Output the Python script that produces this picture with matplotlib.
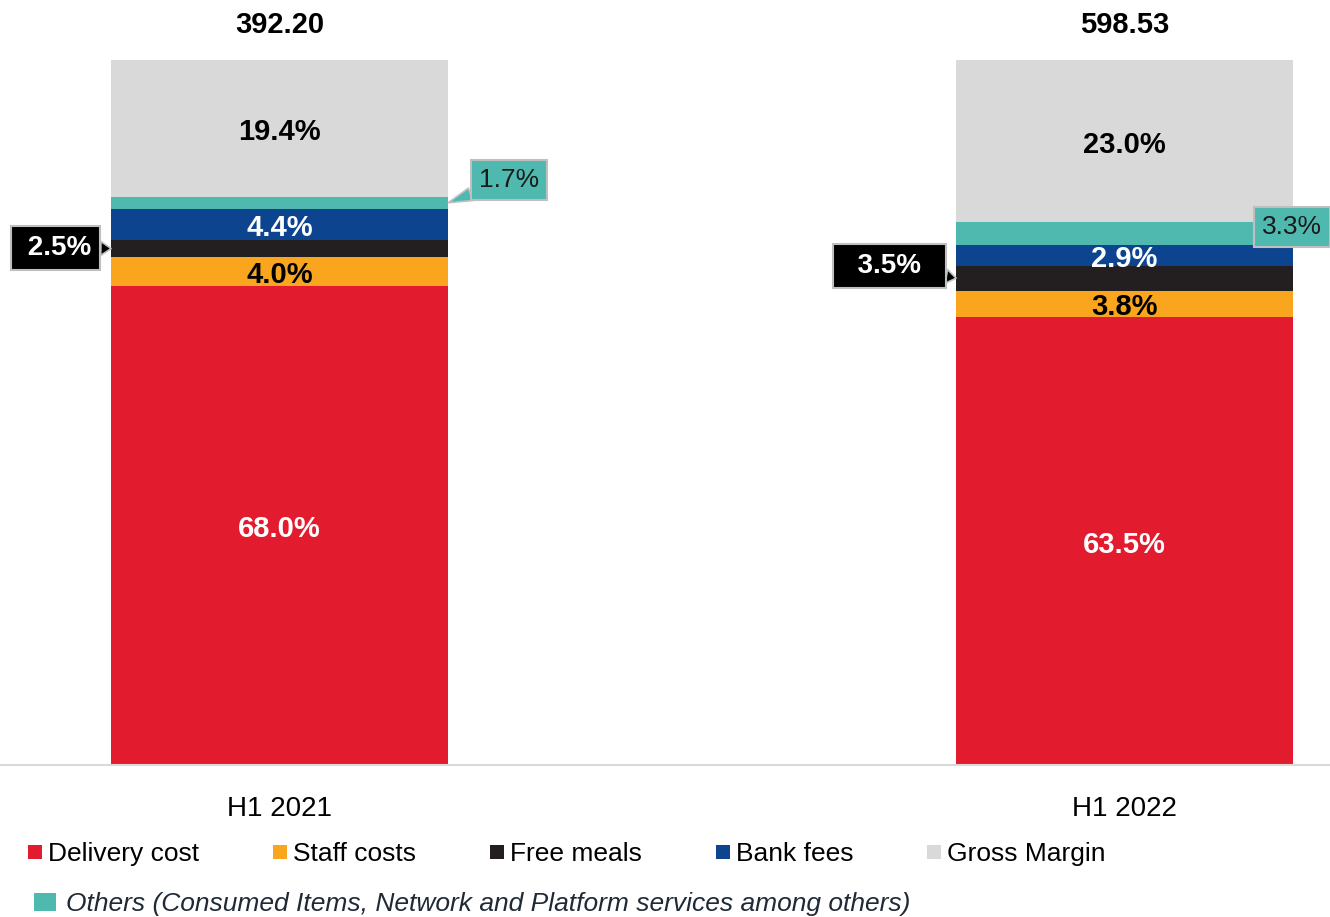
import matplotlib.pyplot as plt
import numpy as np

plt.rcParams['font.family'] = ['Liberation Sans', 'DejaVu Sans']

periods = ['H1 2021', 'H1 2022']
totals = [392.20, 598.53]

# share of revenue per cost line (%)
delivery_cost = [68.0, 63.5]
staff_costs = [4.0, 3.8]
free_meals = [2.5, 3.5]
bank_fees = [4.4, 2.9]
others = [1.7, 3.3]
gross_margin = [19.4, 23.0]

series = [
    ('Delivery cost', delivery_cost, '#E31B2E', 'white'),
    ('Staff costs', staff_costs, '#F9A51E', 'black'),
    ('Free meals', free_meals, '#231F20', None),
    ('Bank fees', bank_fees, '#0D4490', 'white'),
    ('Others (Consumed Items, Network and Platform services among others)', others, '#4FB9B0', None),
    ('Gross Margin', gross_margin, '#D9D9D9', 'black'),
]

fig = plt.figure(figsize=(13.3, 9.17), dpi=100)
ax = fig.add_axes([0, 0.1658, 1, 0.7688])

x = np.arange(len(periods))
width = 0.399
bottom = np.zeros(len(periods))
bars = {}
mids = {}
for name, vals, color, txt in series:
    vals = np.array(vals)
    b = ax.bar(x, vals, width, bottom=bottom, color=color, label=name, linewidth=0)
    bars[name] = b
    mids[name] = bottom + vals / 2
    if txt is not None:
        for xi, v, m in zip(x, vals, bottom + vals / 2):
            ax.annotate(f'{v:.1f}%', (xi, m), xytext=(0, -2.5), textcoords='offset points',
                        ha='center', va='center', color=txt, fontsize=21, fontweight='bold')
    bottom = bottom + vals

# totals above each bar
for xi, t, top in zip(x, totals, bottom):
    ax.annotate(f'{t:.2f}', (xi, top), xytext=(0, 25), textcoords='offset points',
                ha='center', va='center', fontsize=21, fontweight='bold',
                annotation_clip=False)

# callouts for the thin segments
def callout(name, vals, i, side, offset, fc, tc, weight, label_fmt, pad):
    xi = x[i] + side * width / 2
    ax.annotate(label_fmt.format(vals[i]), (xi, mids[name][i]), xytext=offset,
                textcoords='offset points', ha='center', va='center',
                fontsize=19 if weight == 'normal' else 20, fontweight=weight, color=tc,
                bbox=dict(boxstyle=f'square,pad={pad}', fc=fc, ec='#BFBFBF', lw=1.5),
                arrowprops=dict(arrowstyle='wedge,tail_width=0.5,shrink_factor=0.5',
                                fc=fc, ec='#BFBFBF', lw=1.2, shrinkA=0, shrinkB=0),
                annotation_clip=False)

others_name = series[4][0]
callout(others_name, others, 0, 1, (44, 16.5), '#4FB9B0', '#1a1a1a', 'normal', '{:.1f}%', 0.3)
callout('Free meals', free_meals, 0, -1, (-40, 0.5), 'black', 'white', 'bold', ' {:.1f}%', 0.32)
callout('Free meals', free_meals, 1, -1, (-48, 8.6), 'black', 'white', 'bold', '  {:.1f}%  ', 0.32)
callout(others_name, others, 1, 1, (-1, 5), '#4FB9B0', '#1a1a1a', 'normal', '{:.1f}%', 0.3)

ax.set_xlim(-0.331, 1.243)
ax.set_ylim(0, 100)
ax.set_xticks(x)
ax.set_xticklabels(periods, fontsize=20)
ax.tick_params(axis='x', length=0, pad=22)
ax.set_yticks([])
for s in ['top', 'left', 'right']:
    ax.spines[s].set_visible(False)
ax.spines['bottom'].set_color('#D9D9D9')
ax.spines['bottom'].set_linewidth(1.5)

# legend: first row with the main lines, second row for others
main = [s[0] for s in series if s[0] != others_name]
leg1 = fig.legend([bars[n] for n in main], main, loc='center left',
                  bbox_to_anchor=(0.021, 1 - 854 / 917), ncol=5, frameon=False,
                  fontsize=19, handlelength=0.53, handleheight=0.44,
                  handletextpad=0.23, columnspacing=2.8, borderpad=0, borderaxespad=0)
leg2 = fig.legend([bars[others_name]], [others_name], loc='center left',
                  bbox_to_anchor=(0.0256, 1 - 904 / 917), frameon=False,
                  prop={'size': 19, 'style': 'italic'}, handlelength=0.83,
                  handleheight=0.67, handletextpad=0.38, borderpad=0, borderaxespad=0)
for t in leg2.get_texts():
    t.set_color('#1F2A36')

fig.savefig('out.png', dpi=100)
